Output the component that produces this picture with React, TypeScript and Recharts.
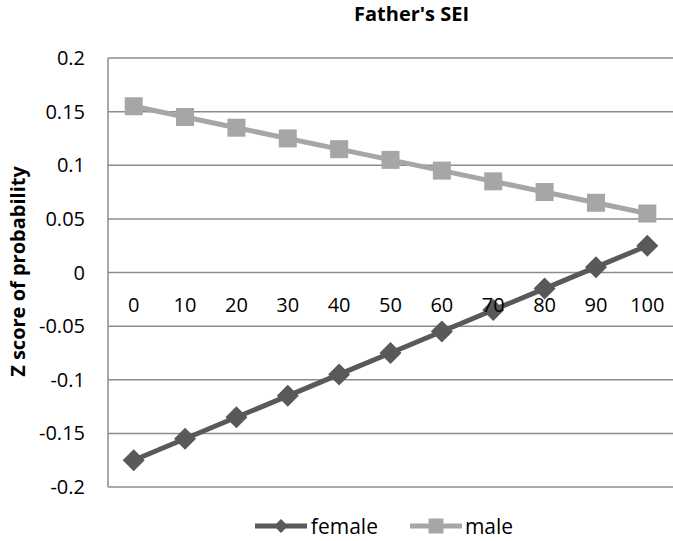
import React from 'react';
import {
  LineChart,
  Line,
  XAxis,
  YAxis,
  CartesianGrid,
  Legend,
  ReferenceDot,
} from 'recharts';

const seiLevels = [0, 10, 20, 30, 40, 50, 60, 70, 80, 90, 100];
const femaleZ = [-0.175, -0.155, -0.135, -0.115, -0.095, -0.075, -0.055, -0.035, -0.015, 0.005, 0.025];
const maleZ = [0.155, 0.145, 0.135, 0.125, 0.115, 0.105, 0.095, 0.085, 0.075, 0.065, 0.055];
const yTicks = [0.2, 0.15, 0.1, 0.05, 0, -0.05, -0.1, -0.15, -0.2];

const FEMALE = '#595959';
const MALE = '#a6a6a6';
const GRID = '#8c8c8c';
const FONT = '"Open Sans", sans-serif';

const chartData = seiLevels.map((sei, i) => ({
  sei,
  female: femaleZ[i],
  male: maleZ[i],
}));

const Diamond = (props: any) => {
  const { cx, cy, index } = props;
  const r = 11;
  return (
    <path
      key={`f-${index}`}
      d={`M${cx},${cy - r} L${cx + r},${cy} L${cx},${cy + r} L${cx - r},${cy} Z`}
      fill={FEMALE}
    />
  );
};

const Square = (props: any) => {
  const { cx, cy, index } = props;
  const s = 18;
  return <rect key={`m-${index}`} x={cx - s / 2} y={cy - s / 2} width={s} height={s} fill={MALE} />;
};

const LegendContent = () => (
  <div
    style={{
      height: 30,
      display: 'flex',
      justifyContent: 'center',
      alignItems: 'center',
      fontFamily: FONT,
      fontSize: 21,
      color: '#000',
    }}
  >
    <svg width={52} height={20}>
      <line x1={0} y1={10} x2={52} y2={10} stroke={FEMALE} strokeWidth={5} />
      <path d="M26,3 L33,10 L26,17 L19,10 Z" fill={FEMALE} />
    </svg>
    <span style={{ marginLeft: 4, marginRight: 32 }}>female</span>
    <svg width={52} height={20}>
      <line x1={0} y1={10} x2={52} y2={10} stroke={MALE} strokeWidth={5} />
      <rect x={18.5} y={2.5} width={15} height={15} fill={MALE} />
    </svg>
    <span style={{ marginLeft: 3 }}>male</span>
  </div>
);

const YLabel = (props: any) => {
  const { viewBox } = props;
  const x = viewBox.x + 17;
  const y = viewBox.y + viewBox.height / 2 - 1;
  return (
    <text
      x={x}
      y={y}
      transform={`rotate(-90 ${x} ${y})`}
      textAnchor="middle"
      dominantBaseline="central"
      fontFamily={FONT}
      fontSize={20}
      fontWeight="bold"
      fill="#000"
    >
      Z score of probability
    </text>
  );
};

export default function App() {
  return (
    <div style={{ position: 'absolute', left: 0, top: 0, width: 673, height: 541, background: '#fff' }}>
      <div
        style={{
          position: 'absolute',
          left: 354,
          top: 0,
          fontFamily: FONT,
          fontSize: 20,
          fontWeight: 'bold',
          color: '#000',
          whiteSpace: 'nowrap',
        }}
      >
        Father's SEI
      </div>
      <LineChart
        width={673}
        height={541}
        data={chartData}
        margin={{ top: 58, right: 0, left: 0, bottom: 24 }}
      >
        <CartesianGrid vertical={false} stroke={GRID} strokeWidth={1.5} />
        <XAxis dataKey="sei" type="category" scale="band" hide />
        <YAxis
          width={108}
          domain={[-0.2, 0.2]}
          ticks={yTicks}
          tickFormatter={(v: number) => String(v)}
          tick={{ fill: '#000', fontSize: 20, fontFamily: FONT }}
          tickLine={false}
          tickSize={0}
          tickMargin={23}
          axisLine={{ stroke: GRID, strokeWidth: 1.5 }}
          label={YLabel}
        />
        {seiLevels.map((sei) => (
          <ReferenceDot
            key={sei}
            x={sei}
            y={0}
            r={0}
            stroke="none"
            fill="none"
            label={{
              value: String(sei),
              position: 'bottom',
              offset: 25,
              fill: '#000',
              fontSize: 20,
              fontFamily: FONT,
            }}
          />
        ))}
        <Legend
          verticalAlign="bottom"
          content={LegendContent}
          wrapperStyle={{ bottom: 0, left: 100, width: 568 }}
        />
        <Line
          dataKey="male"
          stroke={MALE}
          strokeWidth={5}
          dot={Square}
          activeDot={false}
          isAnimationActive={false}
        />
        <Line
          dataKey="female"
          stroke={FEMALE}
          strokeWidth={5}
          dot={Diamond}
          activeDot={false}
          isAnimationActive={false}
        />
      </LineChart>
    </div>
  );
}
